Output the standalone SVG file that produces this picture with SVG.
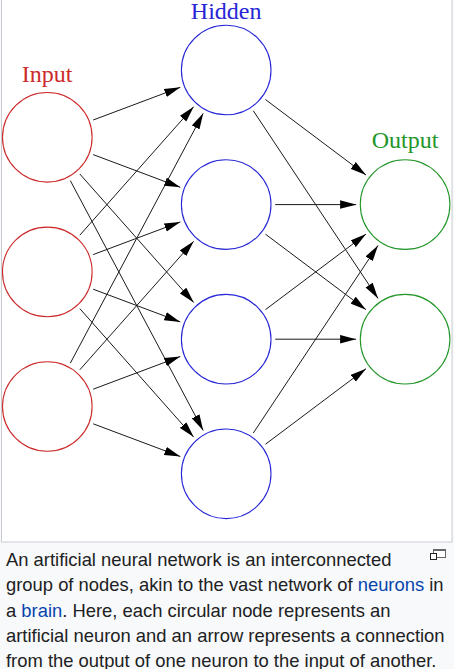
<svg xmlns="http://www.w3.org/2000/svg" width="454" height="669" viewBox="0 0 454 669">
<style>
.conn line{stroke:#1a1a1a;stroke-width:1;marker-end:url(#ah)}
.node circle{fill:none;stroke-width:1.1}
.in circle{stroke:#cc2a2a}
.hid circle{stroke:#2626d6}
.out circle{stroke:#229628}
.lbl{font-family:"Liberation Serif",serif;font-size:24px;text-anchor:middle}
.cap{font-family:"Liberation Sans",Arial,sans-serif;font-size:18.4px;fill:#202122}
.lnk{fill:#0645ad}
</style>
<defs>
<marker id="ah" markerUnits="userSpaceOnUse" markerWidth="16" markerHeight="9" refX="15" refY="4" orient="auto" viewBox="0 0 15 8">
<path d="M0,0 L15,4 L0,8 z" fill="#000"/>
</marker>
</defs>
<rect x="0" y="0" width="454" height="669" fill="#f8f9fa"/>
<rect x="1.5" y="-1" width="450.5" height="543" fill="#fff" stroke="#c8ccd1" stroke-width="1"/>
<g id="label-input"><text class="lbl" x="47" y="81.7" fill="#cc2a2a">Input</text></g>
<g id="label-hidden"><text class="lbl" x="226.2" y="18.5" fill="#2626d6">Hidden</text></g>
<g id="label-output"><text class="lbl" x="405" y="148.3" fill="#229628">Output</text></g>
<g id="connectors" class="conn">
<line x1="93.2" y1="120.0" x2="180.3" y2="87.3"/>
<line x1="93.2" y1="154.6" x2="180.3" y2="187.3"/>
<line x1="79.8" y1="174.0" x2="193.7" y2="302.5"/>
<line x1="70.3" y1="180.6" x2="203.2" y2="430.5"/>
<line x1="79.8" y1="235.2" x2="193.7" y2="106.7"/>
<line x1="93.2" y1="254.6" x2="180.3" y2="221.9"/>
<line x1="93.2" y1="289.2" x2="180.3" y2="321.9"/>
<line x1="79.8" y1="308.6" x2="193.7" y2="437.1"/>
<line x1="70.3" y1="363.2" x2="203.2" y2="113.3"/>
<line x1="79.8" y1="369.8" x2="193.7" y2="241.3"/>
<line x1="93.2" y1="389.2" x2="180.3" y2="356.5"/>
<line x1="93.2" y1="423.8" x2="180.3" y2="456.5"/>
<line x1="265.4" y1="99.5" x2="366.0" y2="175.1"/>
<line x1="253.3" y1="110.8" x2="378.0" y2="298.4"/>
<line x1="275.2" y1="204.6" x2="356.1" y2="204.6"/>
<line x1="265.4" y1="234.1" x2="366.0" y2="309.7"/>
<line x1="265.4" y1="309.7" x2="366.0" y2="234.1"/>
<line x1="275.2" y1="339.2" x2="356.1" y2="339.2"/>
<line x1="253.3" y1="433.0" x2="378.0" y2="245.4"/>
<line x1="265.4" y1="444.3" x2="366.0" y2="368.7"/>
</g>
<g id="input1" class="node in"><circle cx="47.3" cy="137.3" r="44.8"/></g>
<g id="input2" class="node in"><circle cx="47.3" cy="271.9" r="44.8"/></g>
<g id="input3" class="node in"><circle cx="47.3" cy="406.5" r="44.8"/></g>
<g id="hidden1" class="node hid"><circle cx="226.2" cy="70" r="44.8"/></g>
<g id="hidden2" class="node hid"><circle cx="226.2" cy="204.6" r="44.8"/></g>
<g id="hidden3" class="node hid"><circle cx="226.2" cy="339.2" r="44.8"/></g>
<g id="hidden4" class="node hid"><circle cx="226.2" cy="473.8" r="44.8"/></g>
<g id="output1" class="node out"><circle cx="405.1" cy="204.6" r="44.8"/></g>
<g id="output2" class="node out"><circle cx="405.1" cy="339.2" r="44.8"/></g>
<g id="magnify-icon">
<rect x="433.5" y="549.5" width="12" height="8" fill="#fff" stroke="#666"/>
<rect x="433.5" y="549.5" width="12" height="1.5" fill="#666"/>
<rect x="430.5" y="553.5" width="6" height="6" fill="#fff" stroke="#222"/>
</g>
<g id="caption">
<text class="cap" x="6" y="565.7">An artificial neural network is an interconnected</text>
<text class="cap" x="6" y="591.2">group of nodes, akin to the vast network of <tspan class="lnk">neurons</tspan> in</text>
<text class="cap" x="6" y="616.5">a <tspan class="lnk">brain</tspan>. Here, each circular node represents an</text>
<text class="cap" x="6" y="641.7">artificial neuron and an arrow represents a connection</text>
<text class="cap" x="6" y="666.7">from the output of one neuron to the input of another.</text>
</g>
</svg>
